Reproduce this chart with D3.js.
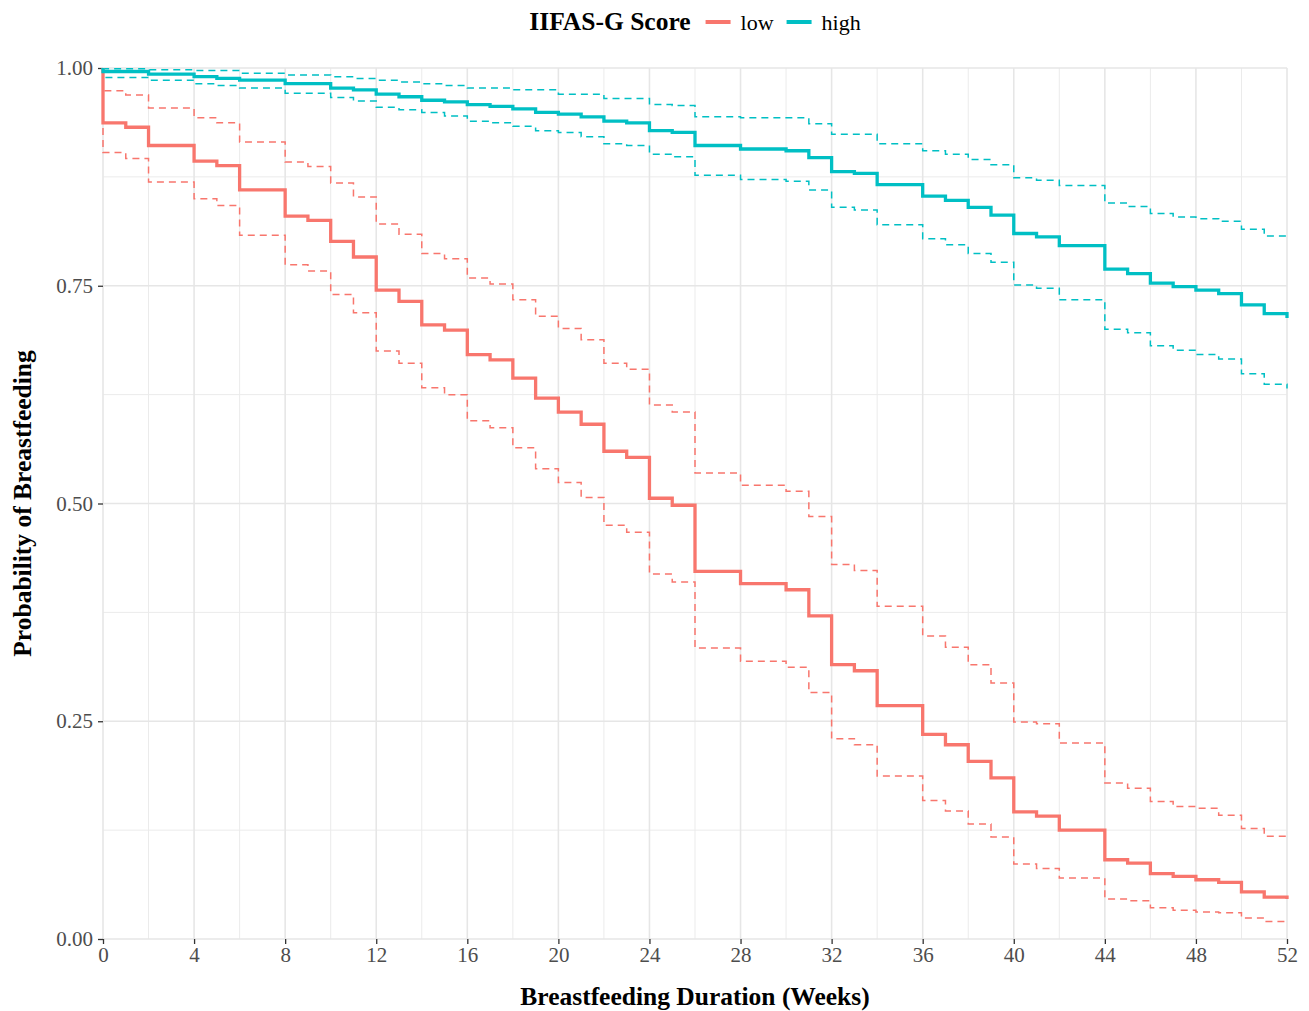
<!DOCTYPE html>
<html>
<head>
<meta charset="utf-8">
<script src="https://cdn.jsdelivr.net/npm/d3@7"></script>
<style>
  html, body { margin: 0; padding: 0; background: #fff; }
  text { font-family: "Liberation Serif", "Times New Roman", serif; }
</style>
</head>
<body>
<svg id="chart" width="1309" height="1011"></svg>
<script>
// ---------- DATA ----------
const groups = ["low", "high"];
const groupColors = ["#F8766D", "#00BFC4"];
const legendTitle = "IIFAS-G Score";
const xTitle = "Breastfeeding Duration (Weeks)";
const yTitle = "Probability of Breastfeeding";
const xTicks = [0,4,8,12,16,20,24,28,32,36,40,44,48,52];
const yTicks = [0, 0.25, 0.5, 0.75, 1];
const yTickLabels = ["0.00", "0.25", "0.50", "0.75", "1.00"];

const lowTimes = [0,0,1,2,4,5,6,8,9,10,11,12,13,14,15,16,17,18,19,20,21,22,23,24,25,26,28,30,31,32,33,34,36,37,38,39,40,41,42,44,45,46,47,48,49,50,51,52];
const lowSurv  = [1.0,0.937,0.932,0.911,0.893,0.888,0.860,0.830,0.825,0.801,0.783,0.745,0.732,0.705,0.699,0.671,0.665,0.644,0.621,0.605,0.591,0.560,0.553,0.506,0.498,0.422,0.408,0.401,0.371,0.315,0.308,0.268,0.235,0.223,0.204,0.185,0.146,0.141,0.125,0.091,0.087,0.075,0.072,0.068,0.065,0.054,0.048,0.046];
const lowUpper = [1.0,0.974,0.969,0.954,0.943,0.937,0.915,0.892,0.887,0.868,0.852,0.821,0.809,0.787,0.781,0.759,0.752,0.734,0.715,0.701,0.688,0.661,0.654,0.613,0.605,0.535,0.521,0.514,0.485,0.430,0.423,0.382,0.348,0.335,0.315,0.294,0.249,0.247,0.225,0.179,0.173,0.158,0.152,0.150,0.142,0.127,0.118,0.116];
const lowLower = [1.0,0.903,0.896,0.869,0.850,0.842,0.808,0.774,0.767,0.740,0.719,0.675,0.661,0.633,0.625,0.595,0.587,0.564,0.540,0.524,0.507,0.475,0.467,0.419,0.410,0.334,0.319,0.312,0.283,0.230,0.223,0.187,0.159,0.147,0.132,0.117,0.086,0.081,0.070,0.046,0.044,0.036,0.033,0.031,0.030,0.024,0.020,0.019];

const highTimes = [0,0,2,4,5,6,8,10,11,12,13,14,15,16,17,18,19,20,21,22,23,24,25,26,28,30,31,32,33,34,36,37,38,39,40,41,42,44,45,46,47,48,49,50,51,52];
const highSurv  = [1.0,0.996,0.993,0.990,0.988,0.986,0.982,0.977,0.975,0.970,0.967,0.963,0.961,0.958,0.956,0.953,0.949,0.947,0.944,0.939,0.937,0.928,0.926,0.911,0.907,0.905,0.897,0.881,0.879,0.866,0.853,0.848,0.840,0.831,0.810,0.806,0.796,0.769,0.764,0.753,0.749,0.745,0.741,0.728,0.718,0.713];
const highUpper = [1.0,0.999,0.998,0.997,0.997,0.994,0.992,0.990,0.988,0.986,0.984,0.982,0.980,0.977,0.977,0.975,0.975,0.970,0.970,0.965,0.965,0.958,0.957,0.944,0.943,0.943,0.936,0.924,0.924,0.913,0.905,0.901,0.895,0.889,0.874,0.871,0.865,0.845,0.841,0.833,0.829,0.827,0.824,0.815,0.807,0.806];
const highLower = [1.0,0.989,0.986,0.982,0.980,0.977,0.971,0.966,0.962,0.955,0.952,0.949,0.945,0.939,0.937,0.933,0.928,0.926,0.921,0.913,0.911,0.901,0.898,0.877,0.872,0.870,0.860,0.840,0.837,0.820,0.804,0.797,0.787,0.777,0.751,0.747,0.734,0.700,0.696,0.681,0.676,0.671,0.666,0.649,0.637,0.632];

// ---------- LAYOUT ----------
const svg = d3.select("#chart");
const W = 1309, H = 1011;
const margin = {left: 103, right: 22, top: 68, bottom: 72};
const pw = W - margin.left - margin.right;
const ph = H - margin.top - margin.bottom;

const x = d3.scaleLinear().domain([0, 52]).range([margin.left, margin.left + pw]);
const y = d3.scaleLinear().domain([0, 1]).range([margin.top + ph, margin.top]);

const g = svg.append("g");

// grid minor
const xMinor = d3.range(2, 52, 4);
const yMinor = [0.125, 0.375, 0.625, 0.875];
g.append("g").selectAll("line").data(xMinor).join("line")
  .attr("x1", d => x(d)).attr("x2", d => x(d))
  .attr("y1", y(0)).attr("y2", y(1))
  .attr("stroke", "#EBEBEB").attr("stroke-width", 1);
g.append("g").selectAll("line").data(yMinor).join("line")
  .attr("x1", x(0)).attr("x2", x(52))
  .attr("y1", d => y(d)).attr("y2", d => y(d))
  .attr("stroke", "#EBEBEB").attr("stroke-width", 1);
// grid major
g.append("g").selectAll("line").data(xTicks).join("line")
  .attr("x1", d => x(d)).attr("x2", d => x(d))
  .attr("y1", y(0)).attr("y2", y(1))
  .attr("stroke", "#E6E6E6").attr("stroke-width", 1.6);
g.append("g").selectAll("line").data(yTicks).join("line")
  .attr("x1", x(0)).attr("x2", x(52))
  .attr("y1", d => y(d)).attr("y2", d => y(d))
  .attr("stroke", "#E6E6E6").attr("stroke-width", 1.6);

// axes
const xAxis = d3.axisBottom(x).tickValues(xTicks).tickSize(5).tickPadding(3).tickFormat(d3.format("d"));
const yAxis = d3.axisLeft(y).tickValues(yTicks).tickSize(5).tickPadding(5).tickFormat((d, i) => yTickLabels[i]);

const gx = g.append("g").attr("transform", `translate(0,${y(0)})`).call(xAxis);
const gy = g.append("g").attr("transform", `translate(${x(0)},0)`).call(yAxis);
[gx, gy].forEach(a => {
  a.select(".domain").remove();
  a.selectAll(".tick line").attr("stroke", "#333333").attr("stroke-width", 1.3);
  a.selectAll(".tick text").attr("fill", "#4D4D4D").style("font-size", "21px")
    .style("font-family", '"Liberation Serif", serif');
});

// curves
const line = d3.line().x(d => x(d[0])).y(d => y(d[1])).curve(d3.curveStepAfter);
function pairs(t, v) { return t.map((ti, i) => [ti, v[i]]); }

const series = [
  {t: lowTimes, s: lowSurv, u: lowUpper, l: lowLower, c: groupColors[0]},
  {t: highTimes, s: highSurv, u: highUpper, l: highLower, c: groupColors[1]}
];
const curves = g.append("g");
series.forEach(sr => {
  [sr.u, sr.l].forEach(ci => {
    curves.append("path").attr("d", line(pairs(sr.t, ci)))
      .attr("fill", "none").attr("stroke", sr.c).attr("stroke-width", 1.5)
      .attr("stroke-dasharray", "7,5");
  });
});
series.forEach(sr => {
  curves.append("path").attr("d", line(pairs(sr.t, sr.s)))
    .attr("fill", "none").attr("stroke", sr.c).attr("stroke-width", 3.3);
});

// axis titles
svg.append("text").attr("x", x(0) + pw / 2).attr("y", 1005)
  .attr("text-anchor", "middle").style("font-size", "25.5px").style("font-weight", "bold")
  .attr("fill", "#000").text(xTitle);
svg.append("text").attr("transform", `translate(31,${y(0.5)}) rotate(-90)`)
  .attr("text-anchor", "middle").style("font-size", "25.5px").style("font-weight", "bold")
  .attr("fill", "#000").text(yTitle);

// legend
const leg = svg.append("g");
const lt = leg.append("text").attr("x", 0).attr("y", 30).style("font-size", "25.5px")
  .style("font-weight", "bold").attr("fill", "#000").text(legendTitle);
let cx = lt.node().getComputedTextLength() + 15;
groups.forEach((grp, i) => {
  leg.append("line").attr("x1", cx).attr("x2", cx + 25).attr("y1", 22).attr("y2", 22)
    .attr("stroke", groupColors[i]).attr("stroke-width", 4);
  const tx = leg.append("text").attr("x", cx + 35).attr("y", 29.5).style("font-size", "22px")
    .attr("fill", "#000").text(grp);
  cx += 35 + tx.node().getComputedTextLength() + 13;
});
const legW = cx - 13;
leg.attr("transform", `translate(${x(0) + pw / 2 - legW / 2},0)`);
</script>
</body>
</html>
